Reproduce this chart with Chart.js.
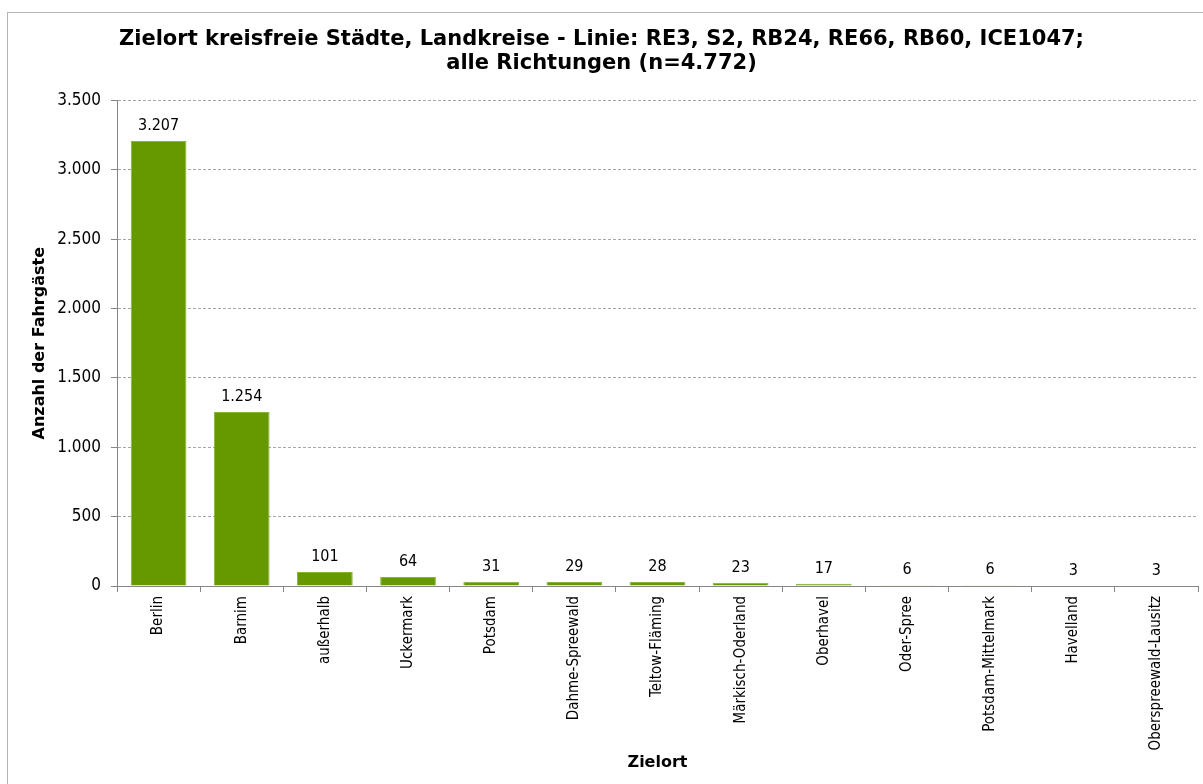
<!DOCTYPE html>
<html>
<head>
<meta charset="utf-8">
<script src="https://cdn.jsdelivr.net/npm/chart.js@4/dist/chart.umd.min.js"></script>
<style>
  html, body { margin: 0; padding: 0; background: #fff; overflow: hidden; }
  #frame { position: absolute; left: 7px; top: 12px; width: 1300px; height: 900px; border: 1px solid #b4b4b4; }
  #wrap { position: absolute; left: 0; top: 0; width: 1203px; height: 784px; }
</style>
</head>
<body>
<div id="frame"></div>
<div id="wrap"><canvas id="zielChart" width="1203" height="784"></canvas></div>
<script>
// ---------- data ----------
const categories = ['Berlin', 'Barnim', 'außerhalb', 'Uckermark', 'Potsdam', 'Dahme-Spreewald',
  'Teltow-Fläming', 'Märkisch-Oderland', 'Oberhavel', 'Oder-Spree', 'Potsdam-Mittelmark',
  'Havelland', 'Oberspreewald-Lausitz'];
const passengers = [3207, 1254, 101, 64, 31, 29, 28, 23, 17, 6, 6, 3, 3];
const yTicks = [0, 500, 1000, 1500, 2000, 2500, 3000, 3500];

const FONT = '"DejaVu Sans Condensed", "DejaVu Sans", sans-serif';
const FONT_BOLD = '"DejaVu Sans", sans-serif';

// german thousands separator
const fmt = v => String(v).replace(/\B(?=(\d{3})+(?!\d))/g, '.');

// value labels above bars
const barLabels = {
  id: 'barLabels',
  afterDatasetsDraw(chart) {
    const { ctx } = chart;
    const meta = chart.getDatasetMeta(0);
    ctx.save();
    ctx.font = '16px ' + FONT;
    ctx.fillStyle = '#000';
    ctx.textAlign = 'center';
    ctx.textBaseline = 'bottom';
    meta.data.forEach((bar, i) => {
      ctx.fillText(fmt(passengers[i]), bar.x, bar.y - 7);
    });
    ctx.restore();
  }
};

const ctx = document.getElementById('zielChart').getContext('2d');

new Chart(ctx, {
  type: 'bar',
  data: {
    labels: categories,
    datasets: [{
      data: passengers,
      backgroundColor: '#669900',
      borderColor: '#86b33a',
      borderWidth: 1,
      barPercentage: 0.67,
      categoryPercentage: 1.0
    }]
  },
  options: {
    responsive: false,
    animation: false,
    layout: { padding: { left: 5, right: 5, top: 0, bottom: 8 } },
    plugins: {
      legend: { display: false },
      tooltip: { enabled: false },
      title: {
        display: true,
        text: ['Zielort kreisfreie Städte, Landkreise - Linie: RE3, S2, RB24, RE66, RB60, ICE1047;',
               'alle Richtungen (n=4.772)'],
        color: '#000',
        font: { family: FONT_BOLD, size: 21, weight: 'bold', lineHeight: 1.13 },
        padding: { top: 28, bottom: 25 }
      }
    },
    scales: {
      x: {
        afterFit(scale) { scale.height = 784 - 586 - 8; },
        grid: { drawOnChartArea: false, offset: true, tickLength: 6, color: '#868686' },
        border: { color: '#868686', width: 1 },
        ticks: {
          color: '#000',
          font: { family: FONT, size: 15 },
          minRotation: 90, maxRotation: 90, autoSkip: false, padding: 4
        },
        title: {
          display: true, text: 'Zielort', color: '#000',
          font: { family: FONT_BOLD, size: 16, weight: 'bold' },
          padding: { top: 4, bottom: 4 }
        }
      },
      y: {
        min: 0, max: 3500,
        afterFit(scale) { scale.width = 117 - 5; },
        afterBuildTicks(scale) { scale.ticks = yTicks.map(v => ({ value: v })); },
        grid: { color: '#a6a6a6', tickLength: 6, tickColor: '#868686' },
        border: { color: '#868686', width: 1, dash: [3, 2] },
        ticks: {
          color: '#000',
          font: { family: FONT, size: 17 },
          padding: 10,
          callback: v => fmt(v)
        },
        title: {
          display: true, text: 'Anzahl der Fahrgäste', color: '#000',
          font: { family: FONT_BOLD, size: 16, weight: 'bold' },
          padding: { top: 25, bottom: 0 }
        }
      }
    }
  },
  plugins: [barLabels]
});
</script>
</body>
</html>
